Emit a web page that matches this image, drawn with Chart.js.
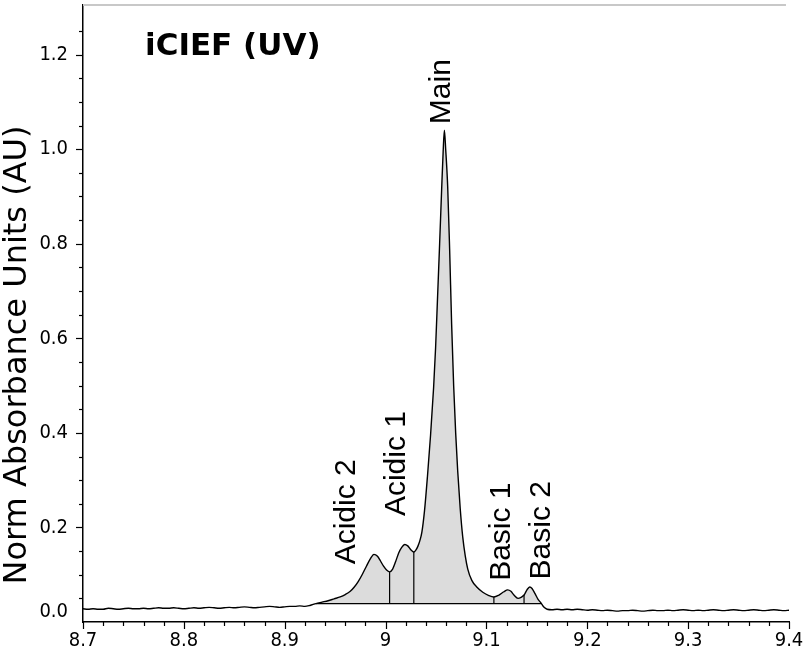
<!DOCTYPE html>
<html>
<head>
<meta charset="utf-8">
<script src="https://cdn.jsdelivr.net/npm/chart.js@4.4.1/dist/chart.umd.min.js"></script>
<style>
  html, body { margin: 0; padding: 0; background: #fff; }
</style>
</head>
<body>
<canvas id="iciefChart" width="810" height="655"></canvas>
<script>

/// DATA ///

// baseline before the peaks (pI, absorbance)
const leftBaseX = [8.700, 8.705, 8.710, 8.715, 8.720, 8.725, 8.730, 8.735, 8.740, 8.745,
                   8.750, 8.755, 8.760, 8.765, 8.770, 8.775, 8.780, 8.785, 8.790, 8.795,
                   8.800, 8.805, 8.810, 8.815, 8.820, 8.825, 8.830, 8.835, 8.840, 8.845,
                   8.850, 8.855, 8.860, 8.865, 8.870, 8.875, 8.880, 8.885, 8.890, 8.895,
                   8.900, 8.905, 8.910, 8.915, 8.920, 8.925];
const leftBaseY = [0.028, 0.027, 0.028, 0.027, 0.027, 0.029, 0.028, 0.027, 0.028, 0.029,
                   0.028, 0.028, 0.029, 0.028, 0.029, 0.030, 0.029, 0.029, 0.030, 0.029,
                   0.028, 0.029, 0.030, 0.029, 0.030, 0.031, 0.030, 0.029, 0.030, 0.031,
                   0.030, 0.031, 0.032, 0.031, 0.030, 0.031, 0.032, 0.033, 0.032, 0.031,
                   0.032, 0.033, 0.033, 0.034, 0.033, 0.035];

// peak cluster
const peakX = [8.931, 8.937, 8.943, 8.949, 8.955, 8.960, 8.965, 8.969, 8.973, 8.977,
               8.981, 8.985, 8.9885, 8.992, 8.995, 8.998, 9.001, 9.004, 9.007, 9.010,
               9.013, 9.016, 9.019, 9.022, 9.025, 9.028, 9.030, 9.032, 9.034, 9.036,
               9.0386, 9.0416, 9.0446, 9.0476, 9.0496, 9.0516, 9.0536, 9.0556, 9.0571, 9.0583,
               9.0596, 9.0616, 9.0635, 9.0655, 9.0675, 9.0695, 9.0715, 9.0740, 9.0765, 9.0790,
               9.0815, 9.0855, 9.0904, 9.0964, 9.1024, 9.1074, 9.1124, 9.1173, 9.1210, 9.1243,
               9.1273, 9.1313, 9.1343, 9.1373, 9.1402, 9.1429, 9.1452, 9.1482, 9.1512, 9.1542,
               9.1572, 9.1602];
const peakY = [0.039, 0.042, 0.045, 0.049, 0.053, 0.058, 0.065, 0.074, 0.086, 0.101,
               0.118, 0.134, 0.143, 0.139, 0.129, 0.118, 0.110, 0.106, 0.112, 0.128,
               0.146, 0.158, 0.164, 0.161, 0.153, 0.148, 0.152, 0.160, 0.172, 0.190,
               0.235, 0.310, 0.395, 0.495, 0.580, 0.690, 0.800, 0.915, 0.995, 1.040,
               1.000, 0.920, 0.790, 0.630, 0.500, 0.400, 0.320, 0.240, 0.180, 0.140,
               0.112, 0.088, 0.074, 0.063, 0.056, 0.053, 0.057, 0.064, 0.068, 0.065,
               0.057, 0.050, 0.052, 0.057, 0.068, 0.074, 0.071, 0.060, 0.048, 0.040,
               0.031, 0.027];

// baseline after the peaks
const rightBaseX = [9.165, 9.170, 9.175, 9.180, 9.185, 9.190, 9.195, 9.200, 9.205, 9.210,
                    9.215, 9.220, 9.225, 9.230, 9.235, 9.240, 9.245, 9.250, 9.255, 9.260,
                    9.265, 9.270, 9.275, 9.280, 9.285, 9.290, 9.295, 9.300, 9.305, 9.310,
                    9.315, 9.320, 9.325, 9.330, 9.335, 9.340, 9.345, 9.350, 9.355, 9.360,
                    9.365, 9.370, 9.375, 9.380, 9.385, 9.390, 9.395, 9.400];
const rightBaseY = [0.026, 0.027, 0.026, 0.027, 0.026, 0.027, 0.026, 0.025, 0.026, 0.025,
                    0.024, 0.025, 0.024, 0.023, 0.024, 0.024, 0.025, 0.024, 0.023, 0.024,
                    0.025, 0.024, 0.024, 0.025, 0.024, 0.025, 0.026, 0.025, 0.024, 0.025,
                    0.024, 0.025, 0.026, 0.025, 0.024, 0.025, 0.026, 0.025, 0.024, 0.025,
                    0.026, 0.025, 0.024, 0.025, 0.026, 0.025, 0.024, 0.025];

// integration region + peak boundaries
const fillStartX = 8.931;
const fillEndX = 9.1542;
const fillBaseY = 0.039;
const dropLineX = [9.004, 9.028, 9.1074, 9.1373];

// peak annotations (x = text centre, y = text start)
const peakNames = ['Acidic 2', 'Acidic 1', 'Main', 'Basic 1', 'Basic 2'];
const peakLabelX = [8.961, 9.011, 9.0556, 9.115, 9.155];
const peakLabelY = [0.122, 0.224, 1.053, 0.087, 0.090];

// axes
const xTickLabels = [8.7, 8.8, 8.9, 9.0, 9.1, 9.2, 9.3, 9.4];
const yTickLabels = [0.0, 0.2, 0.4, 0.6, 0.8, 1.0, 1.2];

const tickFont = "20px 'DejaVu Sans Condensed', 'DejaVu Sans'";


/// BUILD POINTS ///

const toPoints = (xs, ys) => xs.map((x, i) => ({ x: x, y: ys[i] }));

const signal = toPoints(leftBaseX, leftBaseY)
    .concat(toPoints(peakX, peakY))
    .concat(toPoints(rightBaseX, rightBaseY));

const shaded = toPoints(peakX, peakY).filter(p => p.x >= fillStartX - 1e-9 && p.x <= fillEndX + 1e-9);

const dropSets = dropLineX.map(x => ({
    data: [{ x: x, y: fillBaseY }, { x: x, y: peakY[peakX.indexOf(x)] }],
    borderColor: '#000',
    borderWidth: 1.2,
    pointRadius: 0,
    showLine: true,
    order: 1
}));


/// PLUGIN: ticks, titles, peak labels ///

const decorPlugin = {
    id: 'decor',
    afterDraw: function(chart) {
        const ctx = chart.ctx;
        const xs = chart.scales.x;
        const ys = chart.scales.y;
        const area = chart.chartArea;

        ctx.save();

        // grey top border
        ctx.strokeStyle = '#c8c8c8';
        ctx.lineWidth = 2;
        ctx.beginPath();
        ctx.moveTo(area.left, area.top);
        ctx.lineTo(xs.getPixelForValue(9.397), area.top);
        ctx.stroke();

        // y ticks: major every 0.2, minor every 0.05
        ctx.strokeStyle = '#000';
        ctx.lineWidth = 1.2;
        for (let i = 1; i <= 25; i++) {
            const v = i * 0.05;
            const py = Math.round(ys.getPixelForValue(v)) + 0.5;
            const len = (i % 4 === 0) ? 7 : 4;
            ctx.beginPath();
            ctx.moveTo(area.left, py);
            ctx.lineTo(area.left - len, py);
            ctx.stroke();
        }

        // x ticks: major every 0.1, minor every 0.02
        for (let i = 0; i <= 35; i++) {
            const v = 8.7 + i * 0.02;
            const px = Math.round(xs.getPixelForValue(v)) + 0.5;
            const len = (i % 5 === 0) ? 7 : 4;
            ctx.beginPath();
            ctx.moveTo(px, area.bottom);
            ctx.lineTo(px, area.bottom + len);
            ctx.stroke();
        }

        // y tick labels (the 0.0 one sits a bit higher, clear of the x axis)
        ctx.fillStyle = '#000';
        ctx.font = tickFont;
        ctx.textAlign = 'right';
        ctx.textBaseline = 'middle';
        yTickLabels.forEach(v => {
            const lift = v === 0 ? 10 : 0;
            ctx.fillText(v.toFixed(1), area.left - 15, ys.getPixelForValue(v) - lift);
        });

        // title
        ctx.font = "bold 31px 'DejaVu Sans'";
        ctx.textAlign = 'left';
        ctx.textBaseline = 'alphabetic';
        ctx.fillText('iCIEF (UV)', area.left + 62, area.top + 50);

        // y axis title
        ctx.save();
        ctx.translate(18, 355);
        ctx.rotate(-Math.PI / 2);
        ctx.font = "32px 'DejaVu Sans'";
        ctx.textAlign = 'center';
        ctx.textBaseline = 'middle';
        ctx.fillText('Norm Absorbance Units (AU)', 0, 0);
        ctx.restore();

        // peak names, rotated
        ctx.font = "30px 'Liberation Sans'";
        peakNames.forEach((name, i) => {
            ctx.save();
            ctx.translate(xs.getPixelForValue(peakLabelX[i]), ys.getPixelForValue(peakLabelY[i]));
            ctx.rotate(-Math.PI / 2);
            ctx.textAlign = 'left';
            ctx.textBaseline = 'middle';
            ctx.fillText(name, 0, 0);
            ctx.restore();
        });

        ctx.restore();
    }
};


/// CHART ///

const ctx = document.getElementById('iciefChart').getContext('2d');

const config = {
    type: 'scatter',
    plugins: [decorPlugin],
    data: {
        datasets: [
            {
                label: 'Signal',
                data: signal,
                showLine: true,
                borderColor: '#000',
                borderWidth: 1.4,
                pointRadius: 0,
                cubicInterpolationMode: 'monotone',
                order: 0
            },
            {
                label: 'Baseline',
                data: [{ x: fillStartX, y: fillBaseY }, { x: fillEndX, y: fillBaseY }],
                showLine: true,
                borderColor: '#000',
                borderWidth: 1.2,
                pointRadius: 0,
                order: 1
            },
            ...dropSets,
            {
                label: 'Area',
                data: shaded,
                showLine: true,
                borderWidth: 0,
                borderColor: 'rgba(0,0,0,0)',
                backgroundColor: '#dcdcdc',
                pointRadius: 0,
                cubicInterpolationMode: 'monotone',
                fill: { value: fillBaseY },
                order: 5
            }
        ]
    },
    options: {
        responsive: false,
        animation: false,
        layout: {
            padding: { top: 5, right: 21, left: 0, bottom: 0 }
        },
        scales: {
            x: {
                type: 'linear',
                min: 8.7,
                max: 9.4,
                afterBuildTicks: s => { s.ticks = xTickLabels.map(v => ({ value: v })); },
                afterFit: s => { s.height = 33; s.paddingLeft = 0; s.paddingRight = 0; },
                border: { display: true, color: '#000', width: 1.5 },
                grid: { display: false, drawTicks: false },
                ticks: {
                    color: '#000',
                    padding: 7,
                    maxRotation: 0,
                    font: { family: "'DejaVu Sans Condensed', 'DejaVu Sans'", size: 20 },
                    callback: v => String(Number(v.toFixed(1)))
                }
            },
            y: {
                type: 'linear',
                min: 0,
                max: 1.305,
                afterBuildTicks: s => { s.ticks = yTickLabels.map(v => ({ value: v })); },
                afterFit: s => { s.width = 83; s.paddingTop = 0; s.paddingBottom = 0; },
                border: { display: true, color: '#000', width: 1.5 },
                grid: { display: false, drawTicks: false },
                ticks: { display: false }
            }
        },
        plugins: {
            legend: { display: false },
            tooltip: { enabled: false }
        }
    }
};

const iciefChart = new Chart(ctx, config);
</script>
</body>
</html>
